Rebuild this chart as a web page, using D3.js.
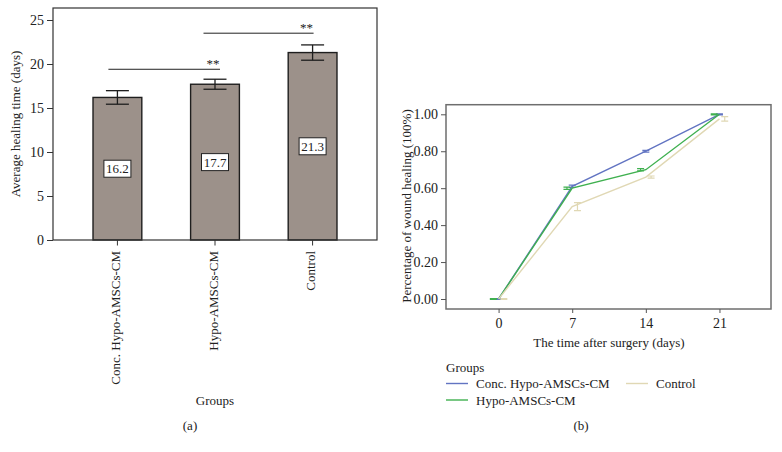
<!DOCTYPE html>
<html><head><meta charset="utf-8">
<script src="https://cdn.jsdelivr.net/npm/d3@7"></script>
<style>
body{margin:0;background:#fff;}
text{font-family:"Liberation Serif","Times New Roman",serif;fill:#222;}
</style></head>
<body><svg id="c" width="782" height="452"></svg>
<script>
// ---- data: panel (a)
const groups = ["Conc. Hypo-AMSCs-CM", "Hypo-AMSCs-CM", "Control"];
const healingMean = [16.2, 17.7, 21.3];
const healingErr = [0.77, 0.57, 0.87];
const yTicksA = [0, 5, 10, 15, 20, 25];
const sigPairs = [[0, 1], [1, 2]];
const sigLevels = [19.4, 23.5];
const sigLabels = ["**", "**"];
// ---- data: panel (b)
const days = [0, 7, 14, 21];
const seriesNames = ["Conc. Hypo-AMSCs-CM", "Hypo-AMSCs-CM", "Control"];
const concVals = [0, 0.61, 0.80, 1.00];
const hypoVals = [0, 0.60, 0.70, 1.00];
const controlVals = [0, 0.50, 0.66, 0.975];
const concErr = [0.002, 0.006, 0.005, 0.003];
const hypoErr = [0.002, 0.006, 0.006, 0.003];
const controlErr = [0.002, 0.022, 0.006, 0.012];
const yTicksB = [0, 0.2, 0.4, 0.6, 0.8, 1.0];
const colors = ["#6274c2", "#3fb04f", "#e0d8b4"];

const svg = d3.select("#c");

// ================= Panel (a)
const ya = d3.scaleLinear().domain([0, 25]).range([240, 20]);
const xa = d3.scaleBand().domain(groups).range([53, 377]).paddingInner(0.5).paddingOuter(0.41);
const ga = svg.append("g");

ga.selectAll("rect.bar").data(groups).join("rect").attr("class", "bar")
  .attr("x", d => xa(d)).attr("width", xa.bandwidth())
  .attr("y", (d, i) => ya(healingMean[i])).attr("height", (d, i) => ya(0) - ya(healingMean[i]))
  .attr("fill", "#9c918a").attr("stroke", "#1e1e1e").attr("stroke-width", 1.4);

// error bars
const capW = 23;
groups.forEach((g, i) => {
  const cx = xa(g) + xa.bandwidth() / 2;
  const hi = ya(healingMean[i] + healingErr[i]), lo = ya(healingMean[i] - healingErr[i]);
  ga.append("line").attr("x1", cx).attr("x2", cx).attr("y1", hi).attr("y2", lo).attr("stroke", "#1e1e1e").attr("stroke-width", 1.3);
  ga.append("line").attr("x1", cx - capW / 2).attr("x2", cx + capW / 2).attr("y1", hi).attr("y2", hi).attr("stroke", "#1e1e1e").attr("stroke-width", 1.3);
  ga.append("line").attr("x1", cx - capW / 2).attr("x2", cx + capW / 2).attr("y1", lo).attr("y2", lo).attr("stroke", "#1e1e1e").attr("stroke-width", 1.3);
  // value label box
  const vy = ya(healingMean[i] / 2);
  ga.append("rect").attr("x", cx - 13.5).attr("y", vy - 8.5).attr("width", 27).attr("height", 17)
    .attr("fill", "#fff").attr("stroke", "#222").attr("stroke-width", 1);
  ga.append("text").attr("x", cx).attr("y", vy + 4.5).attr("text-anchor", "middle")
    .style("font-size", "13px").text(healingMean[i].toFixed(1));
});

// frame
ga.append("rect").attr("x", 53).attr("y", 8).attr("width", 324).attr("height", 232)
  .attr("fill", "none").attr("stroke", "#333").attr("stroke-width", 1.2);

// y axis
const axA = ga.append("g").attr("transform", "translate(53,0)")
  .call(d3.axisLeft(ya).tickValues(yTicksA).tickSize(6).tickPadding(3));
axA.select(".domain").remove();
axA.selectAll("text").style("font-size", "14px").attr("fill", "#222");
axA.selectAll("line").attr("stroke", "#333");

// x ticks
ga.selectAll("line.xt").data(groups).join("line").attr("class", "xt")
  .attr("x1", d => xa(d) + xa.bandwidth() / 2).attr("x2", d => xa(d) + xa.bandwidth() / 2)
  .attr("y1", 240).attr("y2", 245.5).attr("stroke", "#333");
ga.selectAll("text.xl").data(groups).join("text").attr("class", "xl")
  .attr("transform", d => `translate(${xa(d) + xa.bandwidth() / 2 + 2.5},251) rotate(-90)`)
  .attr("text-anchor", "end").style("font-size", "13px").text(d => d);

// significance
const sigOff = [[-9, 5], [-11.5, 1]];
sigPairs.forEach((p, k) => {
  const x1 = xa(groups[p[0]]) + xa.bandwidth() / 2 + sigOff[k][0];
  const x2 = xa(groups[p[1]]) + xa.bandwidth() / 2 + sigOff[k][1];
  const y = ya(sigLevels[k]);
  ga.append("line").attr("x1", x1).attr("x2", x2).attr("y1", y).attr("y2", y).attr("stroke", "#222").attr("stroke-width", 1);
  ga.append("text").attr("x", x2 - 7).attr("y", y - 1.5).attr("text-anchor", "middle")
    .style("font-size", "13px").text(sigLabels[k]);
});

ga.append("text").attr("transform", "translate(20,124) rotate(-90)").attr("text-anchor", "middle")
  .style("font-size", "13px").text("Average healing time (days)");
ga.append("text").attr("x", 215).attr("y", 405).attr("text-anchor", "middle").style("font-size", "13px").text("Groups");
ga.append("text").attr("x", 190).attr("y", 430).attr("text-anchor", "middle").style("font-size", "13px").text("(a)");

// ================= Panel (b)
const xb = d3.scaleLinear().domain([-5, 25.9]).range([446, 771]);
const yb = d3.scaleLinear().domain([0, 1]).range([299, 114.3]);
const gb = svg.append("g");

gb.append("rect").attr("x", 446).attr("y", 104.7).attr("width", 325).attr("height", 204.3)
  .attr("fill", "none").attr("stroke", "#6e6e6e").attr("stroke-width", 1.5);

const axBy = gb.append("g").attr("transform", "translate(446,0)")
  .call(d3.axisLeft(yb).tickValues(yTicksB).tickFormat(d3.format(".2f")).tickSize(5).tickPadding(3));
axBy.select(".domain").remove();
axBy.selectAll("text").style("font-size", "14px").attr("fill", "#222");
axBy.selectAll("line").attr("stroke", "#555");

const axBx = gb.append("g").attr("transform", "translate(0,309)")
  .call(d3.axisBottom(xb).tickValues(days).tickSize(4).tickPadding(5.5));
axBx.select(".domain").remove();
axBx.selectAll("text").style("font-size", "14px").attr("fill", "#222");
axBx.selectAll("line").attr("stroke", "#555");

const allVals = [concVals, hypoVals, controlVals];
const allErr = [concErr, hypoErr, controlErr];
const dodge = [0, -0.5, 0.5];
const line = d3.line().x(d => xb(d[0])).y(d => yb(d[1]));
allVals.forEach((vals, s) => {
  const pts = days.map((d, i) => [d, vals[i]]);
  gb.append("path").datum(pts).attr("d", line).attr("fill", "none")
    .attr("stroke", colors[s]).attr("stroke-width", 1.4);
  days.forEach((d, i) => {
    const cx = xb(d + dodge[s]);
    const hi = yb(vals[i] + allErr[s][i]), lo = yb(vals[i] - allErr[s][i]);
    const w = 3.5;
    gb.append("path").attr("d", `M${cx - w},${hi}H${cx + w}M${cx},${hi}V${lo}M${cx - w},${lo}H${cx + w}`)
      .attr("fill", "none").attr("stroke", colors[s]).attr("stroke-width", 1.2);
  });
});

gb.append("text").attr("transform", "translate(411,206) rotate(-90)").attr("text-anchor", "middle")
  .style("font-size", "13px").text("Percentage of wound healing (100%)");
gb.append("text").attr("x", 609).attr("y", 347).attr("text-anchor", "middle").style("font-size", "13px").text("The time after surgery (days)");

// legend
gb.append("text").attr("x", 446).attr("y", 372).style("font-size", "13px").text("Groups");
const legPos = [[446, 383.5], [446, 400], [626, 383.5]];
seriesNames.forEach((n, s) => {
  const [lx, ly] = legPos[s];
  gb.append("line").attr("x1", lx).attr("x2", lx + 22).attr("y1", ly).attr("y2", ly)
    .attr("stroke", colors[s]).attr("stroke-width", 1.4);
  gb.append("text").attr("x", lx + 30).attr("y", ly + 4.5).style("font-size", "13px").text(n);
});
gb.append("text").attr("x", 581).attr("y", 430).attr("text-anchor", "middle").style("font-size", "13px").text("(b)");
</script></body></html>
